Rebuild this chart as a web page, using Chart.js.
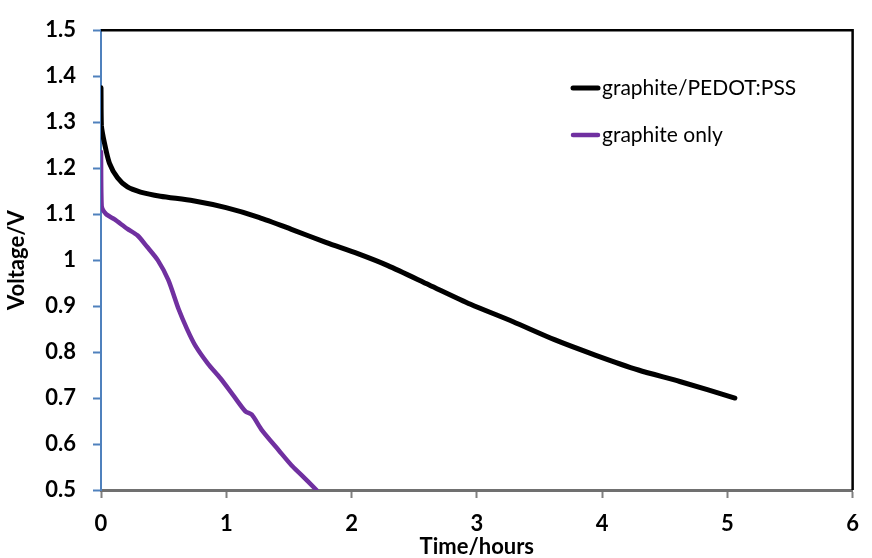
<!DOCTYPE html>
<html>
<head>
<meta charset="utf-8">
<title>Discharge curves</title>
<script src="https://cdn.jsdelivr.net/npm/chart.js@4.4.1/dist/chart.umd.min.js"></script>
<style>
  html, body { margin: 0; padding: 0; background: #fff; }
  #wrap { width: 872px; height: 558px; }
</style>
</head>
<body>
<div id="wrap"><canvas id="chart" width="872" height="558"></canvas></div>
<script>
// series names
const seriesLabels = ['graphite/PEDOT:PSS', 'graphite only'];
const seriesColors = ['#000000', '#7030A0'];

// graphite/PEDOT:PSS discharge (hours, volts)
const pedotHours = [0, 0.003, 0.028, 0.067, 0.132, 0.211, 0.316, 0.474, 0.736, 0.998, 1.26, 1.52, 1.80, 2.05, 2.29, 2.62, 2.95, 3.29, 3.62, 3.95, 4.29, 4.62, 5.06];
const pedotVolts = [1.375, 1.293, 1.254, 1.211, 1.179, 1.159, 1.148, 1.139, 1.129, 1.114, 1.093, 1.067, 1.038, 1.014, 0.988, 0.946, 0.904, 0.866, 0.827, 0.793, 0.761, 0.736, 0.700];

// graphite only discharge (hours, volts)
const graphiteHours = [0, 0.005, 0.041, 0.106, 0.211, 0.29, 0.368, 0.453, 0.537, 0.62, 0.687, 0.753, 0.853, 0.953, 1.053, 1.153, 1.203, 1.287, 1.42, 1.52, 1.603, 1.72];
const graphiteVolts = [1.235, 1.118, 1.100, 1.089, 1.068, 1.054, 1.029, 1.000, 0.957, 0.893, 0.850, 0.814, 0.775, 0.743, 0.707, 0.671, 0.664, 0.629, 0.586, 0.554, 0.532, 0.500];

// axis ranges
const xRange = [0, 6];
const yRange = [0.5, 1.5];
const xTitle = 'Time/hours';
const yTitle = 'Voltage/V';

const toPoints = (xs, ys) => xs.map((x, i) => ({ x, y: ys[i] }));

Chart.defaults.font.family = 'Lato, "Open Sans", sans-serif';
Chart.defaults.color = '#000';

// black frame on top and right of the plot area
const plotFrame = {
  id: 'plotFrame',
  beforeDatasetsDraw(chart) {
    const { ctx, chartArea: { left, top, right, bottom } } = chart;
    ctx.save();
    ctx.strokeStyle = '#000';
    ctx.lineWidth = 2.5;
    ctx.beginPath();
    ctx.moveTo(left, top);
    ctx.lineTo(right, top);
    ctx.lineTo(right, bottom);
    ctx.stroke();
    ctx.restore();
  }
};

// legend inside the plot, upper right
const innerLegend = {
  id: 'innerLegend',
  afterDatasetsDraw(chart) {
    const { ctx } = chart;
    ctx.save();
    ctx.font = '21px Lato, "Open Sans", sans-serif';
    ctx.textBaseline = 'middle';
    ctx.fillStyle = '#000';
    chart.data.datasets.forEach((ds, i) => {
      const y = 88 + i * 47;
      ctx.strokeStyle = ds.borderColor;
      ctx.lineWidth = ds.borderWidth;
      ctx.lineCap = 'round';
      ctx.beginPath();
      ctx.moveTo(573, y);
      ctx.lineTo(598, y);
      ctx.stroke();
      ctx.fillText(ds.label, 602, y);
    });
    ctx.restore();
  }
};

const datasets = [
  { label: seriesLabels[0], data: toPoints(pedotHours, pedotVolts), borderColor: seriesColors[0], borderWidth: 5 },
  { label: seriesLabels[1], data: toPoints(graphiteHours, graphiteVolts), borderColor: seriesColors[1], borderWidth: 4.5 }
].map(d => Object.assign(d, { pointRadius: 0, tension: 0.25, fill: false, borderCapStyle: 'round', borderJoinStyle: 'round' }));

new Chart(document.getElementById('chart'), {
  type: 'line',
  data: { datasets },
  options: {
    responsive: false,
    animation: false,
    layout: { padding: { top: 21, right: 8, left: 0, bottom: 0 } },
    plugins: { legend: { display: false }, tooltip: { enabled: false } },
    scales: {
      x: {
        type: 'linear',
        min: xRange[0],
        max: xRange[1],
        afterFit(scale) { scale.height = 68; },
        ticks: { stepSize: 1, padding: 13, font: { size: 22, weight: 'bold' } },
        grid: { drawOnChartArea: false, drawTicks: true, tickLength: 8, tickColor: '#808080', tickWidth: 2 },
        border: { color: '#707070', width: 3 },
        title: { display: true, text: xTitle, font: { size: 22, weight: 'bold', lineHeight: 1 }, padding: { top: 0, bottom: 0 } }
      },
      y: {
        min: yRange[0],
        max: yRange[1],
        afterFit(scale) { scale.width = 101; },
        ticks: {
          stepSize: 0.1,
          padding: 17,
          font: { size: 22, weight: 'bold' },
          callback: v => String(+v.toFixed(1))
        },
        grid: { drawOnChartArea: false, drawTicks: true, tickLength: 8, tickColor: '#4F81BD', tickWidth: 2 },
        border: { color: '#4F81BD', width: 2 },
        title: { display: true, text: yTitle, font: { size: 22, weight: 'bold', lineHeight: 1 }, padding: { top: 6, bottom: 0 } }
      }
    }
  },
  plugins: [plotFrame, innerLegend]
});
</script>
</body>
</html>
